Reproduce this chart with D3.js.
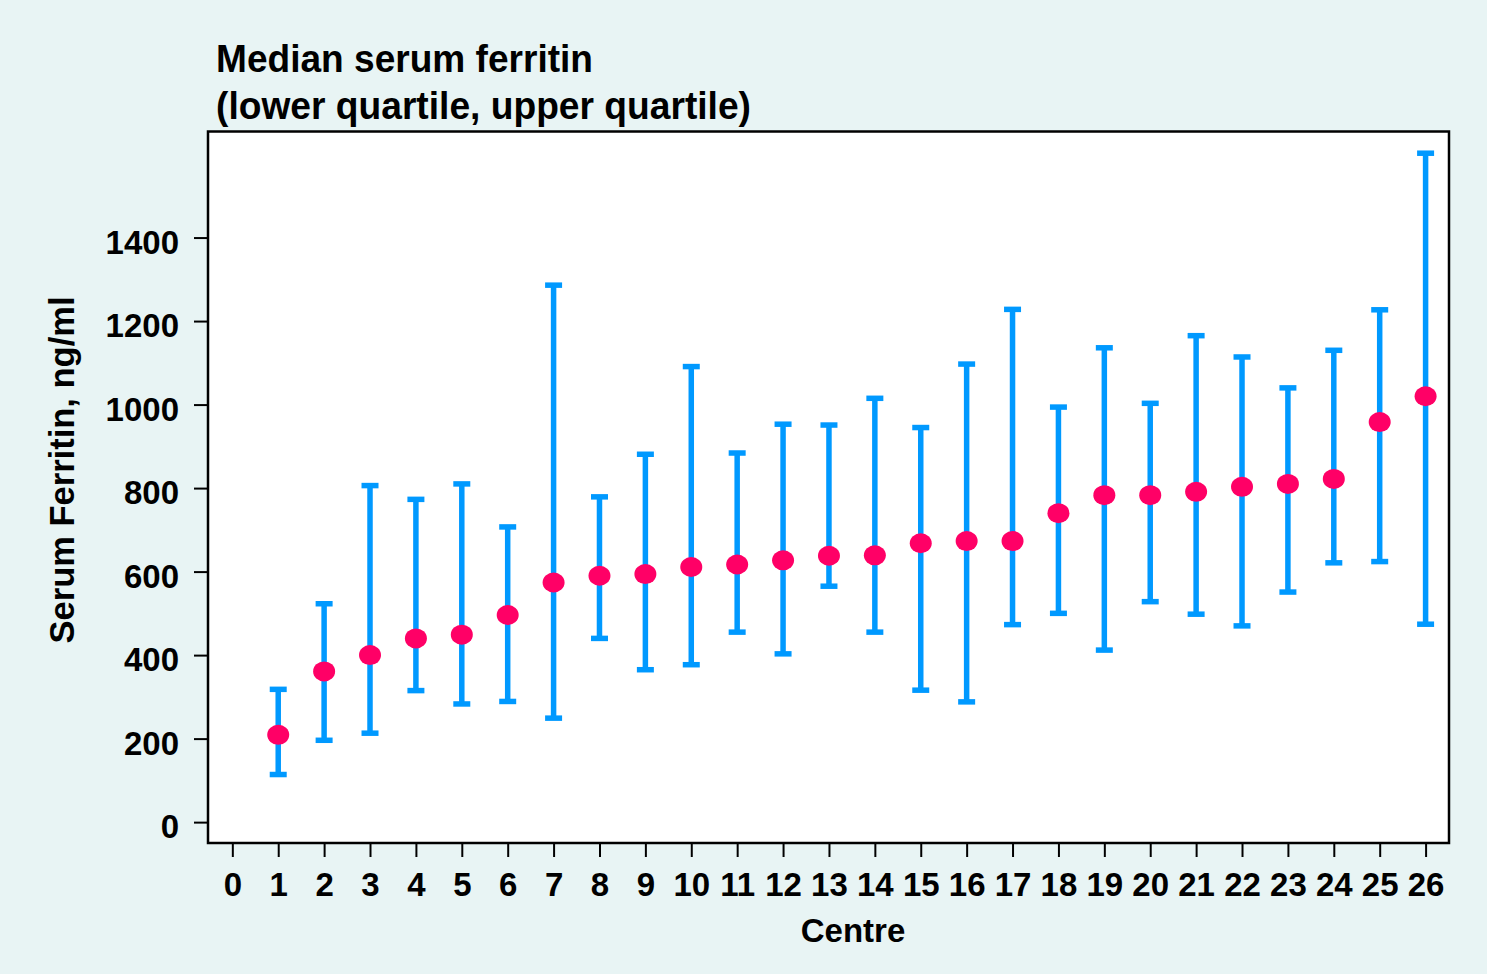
<!DOCTYPE html>
<html>
<head>
<meta charset="utf-8">
<script src="https://cdn.jsdelivr.net/npm/d3@7"></script>
<style>
  html, body { margin: 0; padding: 0; background: #e8f4f4; }
  svg { display: block; }
</style>
</head>
<body>
<div id="chart"></div>
<script>
// centres 1..26, median with lower / upper quartile
const centres = d3.range(1, 27);
const medians = [209, 361, 400, 440, 449, 496, 574, 590, 594, 611, 617, 627, 638,
                 639, 668, 673, 673, 740, 783, 783, 791, 803, 810, 822, 958, 1020];
const lowerQ  = [114, 196, 213, 315, 283, 289, 249, 440, 365, 377, 455, 403, 565,
                 455, 316, 288, 473, 500, 412, 528, 498, 470, 551, 621, 624, 474];
const upperQ  = [318, 523, 806, 773, 810, 707, 1286, 779, 881, 1091, 884, 953, 951,
                 1015, 945, 1097, 1228, 994, 1136, 1003, 1165, 1114, 1040, 1130, 1227, 1602];
const xTicks = d3.range(0, 27);
const yTicks = [0, 200, 400, 600, 800, 1000, 1200, 1400];
const titleLines = ["Median serum ferritin", "(lower quartile, upper quartile)"];

const width = 1487, height = 974;
const margin = { top: 131.5, right: 38, bottom: 131, left: 208 };
const innerW = width - margin.left - margin.right;
const innerH = height - margin.top - margin.bottom;

const blue = "#0099ff";
const pink = "#ff0066";
const font = "'Liberation Sans', Arial, Helvetica, sans-serif";

const svg = d3.select("#chart")
  .append("svg")
  .attr("width", width)
  .attr("height", height);

svg.append("rect")
  .attr("width", width)
  .attr("height", height)
  .attr("fill", "#e8f4f4");

const g = svg.append("g")
  .attr("transform", `translate(${margin.left},${margin.top})`);

const x = d3.scaleLinear().domain([-0.53, 26.51]).range([0, innerW]);
const y = d3.scaleLinear().domain([-50, 1654]).range([innerH, 0]);

// plot background
g.append("rect")
  .attr("width", innerW)
  .attr("height", innerH)
  .attr("fill", "white");

// axes
const xAxis = g.append("g")
  .attr("transform", `translate(0,${innerH})`)
  .call(d3.axisBottom(x).tickValues(xTicks).tickFormat(d3.format("d")).tickSize(14).tickPadding(16));

const yAxis = g.append("g")
  .call(d3.axisLeft(y).tickValues(yTicks).tickFormat(d3.format("d")).tickSize(14).tickPadding(15));

[xAxis, yAxis].forEach(ax => {
  ax.select(".domain").remove();
  ax.selectAll(".tick line").attr("stroke", "#000").attr("stroke-width", 2);
  ax.selectAll(".tick text")
    .attr("fill", "#000")
    .style("font-family", font)
    .style("font-size", "33px")
    .style("font-weight", "bold");
});
// labels in the original sit a little below their ticks
yAxis.selectAll(".tick text").attr("dy", "0.48em");

// error bars
const rows = centres.map((c, i) => ({ c, med: medians[i], lo: lowerQ[i], hi: upperQ[i] }));
const capW = 17;

const bars = g.append("g").selectAll("g")
  .data(rows)
  .enter()
  .append("g");

bars.append("line")
  .attr("x1", d => x(d.c)).attr("x2", d => x(d.c))
  .attr("y1", d => y(d.lo)).attr("y2", d => y(d.hi))
  .attr("stroke", blue)
  .attr("stroke-width", 5.5);

bars.selectAll(".cap")
  .data(d => [{ c: d.c, v: d.lo }, { c: d.c, v: d.hi }])
  .enter()
  .append("line")
  .attr("class", "cap")
  .attr("x1", d => x(d.c) - capW / 2).attr("x2", d => x(d.c) + capW / 2)
  .attr("y1", d => y(d.v)).attr("y2", d => y(d.v))
  .attr("stroke", blue)
  .attr("stroke-width", 5.5);

// medians
g.append("g").selectAll("ellipse")
  .data(rows)
  .enter()
  .append("ellipse")
  .attr("cx", d => x(d.c))
  .attr("cy", d => y(d.med))
  .attr("rx", 11)
  .attr("ry", 10)
  .attr("fill", pink);

// frame
g.append("rect")
  .attr("width", innerW)
  .attr("height", innerH)
  .attr("fill", "none")
  .attr("stroke", "#000")
  .attr("stroke-width", 2.5);

// axis titles
svg.append("text")
  .attr("x", 853)
  .attr("y", 942)
  .attr("text-anchor", "middle")
  .style("font-family", font)
  .style("font-size", "33px")
  .style("font-weight", "bold")
  .text("Centre");

svg.append("text")
  .attr("transform", "translate(74,470) rotate(-90)")
  .attr("text-anchor", "middle")
  .style("font-family", font)
  .style("font-size", "34.5px")
  .style("font-weight", "bold")
  .text("Serum Ferritin, ng/ml");

// title, squeezed to the narrow face of the original
const titleWidths = [377, 535];
titleLines.forEach((t, i) => {
  svg.append("text")
    .attr("x", 216)
    .attr("y", 72 + i * 47)
    .attr("textLength", titleWidths[i])
    .attr("lengthAdjust", "spacingAndGlyphs")
    .style("font-family", font)
    .style("font-size", "39px")
    .style("font-weight", "bold")
    .text(t);
});
</script>
</body>
</html>
